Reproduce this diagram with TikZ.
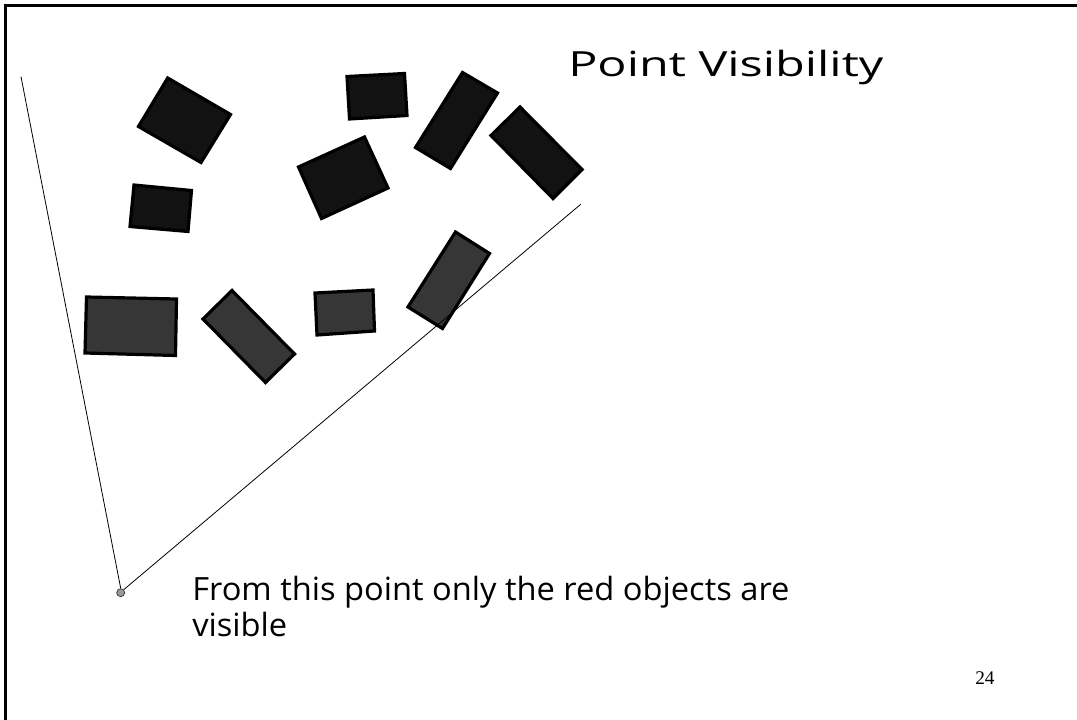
\documentclass[tikz,border=0pt]{standalone}
\usepackage{fontspec}
\setmainfont{Open Sans}
\newfontfamily\titlefont[FakeStretch=1.4]{Open Sans}
\newfontfamily\capfont[FakeStretch=1.02]{Open Sans}
\newfontfamily\numfont{Liberation Serif}
\begin{document}
\begin{tikzpicture}[x=0.75pt,y=-0.75pt,
  obsTop/.style={fill=black!93,draw=black,line width=2.4pt,line join=miter},
  obsLow/.style={fill=black!79,draw=black,line width=2.4pt,line join=miter},
  sight/.style={draw=black,line width=0.6pt},
  frameline/.style={draw=black,line width=2pt},
  viewpt/.style={circle,draw=black!75,fill=black!40,line width=0.6pt,inner sep=0pt,minimum size=6pt}]
\useasboundingbox (0,0) rectangle (1077,720);
\fill[white] (-10,-10) rectangle (1090,730);
% frame (top and left edges)
\draw[frameline] (5.5,730) -- (5.5,5.5) -- (1090,5.5);
% upper obstacles
\draw[obsTop] (167.7,78) -- (230.5,114.5) -- (201,162.5) -- (138.5,126.5) -- cycle;
\draw[obsTop] (134,185) -- (191.5,190.5) -- (188,231.5) -- (130,226.5) -- cycle;
\draw[obsTop] (347,76.5) -- (404.5,73.5) -- (407,115.5) -- (349.5,119) -- cycle;
\draw[obsTop] (298.5,167) -- (364.5,137) -- (388,188) -- (321.5,218.5) -- cycle;
\draw[obsTop] (462.5,72.5) -- (497.5,93) -- (450.5,168.5) -- (415.5,147.5) -- cycle;
\draw[obsTop] (520,107) -- (582,169.5) -- (553,198.5) -- (491,135.5) -- cycle;
% lower (visible) obstacles
\draw[obsLow] (86.5,297) -- (176.5,299) -- (175.5,355.5) -- (85,353) -- cycle;
\draw[obsLow] (232,290.5) -- (294.5,354) -- (265.5,382.5) -- (203,319) -- cycle;
\draw[obsLow] (315,293) -- (373,290) -- (374.5,331) -- (317,335) -- cycle;
\draw[obsLow] (455.5,232) -- (489.5,253.5) -- (442.5,328.5) -- (408,307) -- cycle;
% view point and sight lines
\node[viewpt] (P) at (120.7,592.7) {};
\coordinate (L) at (21,76.7);
\coordinate (R) at (580.7,204.3);
\draw[sight] (P.north) -- (L);
\draw[sight] (P.north east) -- (R);
% texts
\node[anchor=base west,inner sep=0pt,font=\titlefont\fontsize{26}{30}\selectfont] (title) at (568,76.7) {Point Visibility};
\node[anchor=base west,inner sep=0pt,font=\capfont\fontsize{24}{27.5}\selectfont,align=left] (caption) at (192,636.7) {From this point only the red objects are\\visible};
\node[anchor=base west,inner sep=0pt,font=\numfont\fontsize{14.5}{17}\selectfont] (pagenum) at (975,684) {24};
\end{tikzpicture}
\end{document}
